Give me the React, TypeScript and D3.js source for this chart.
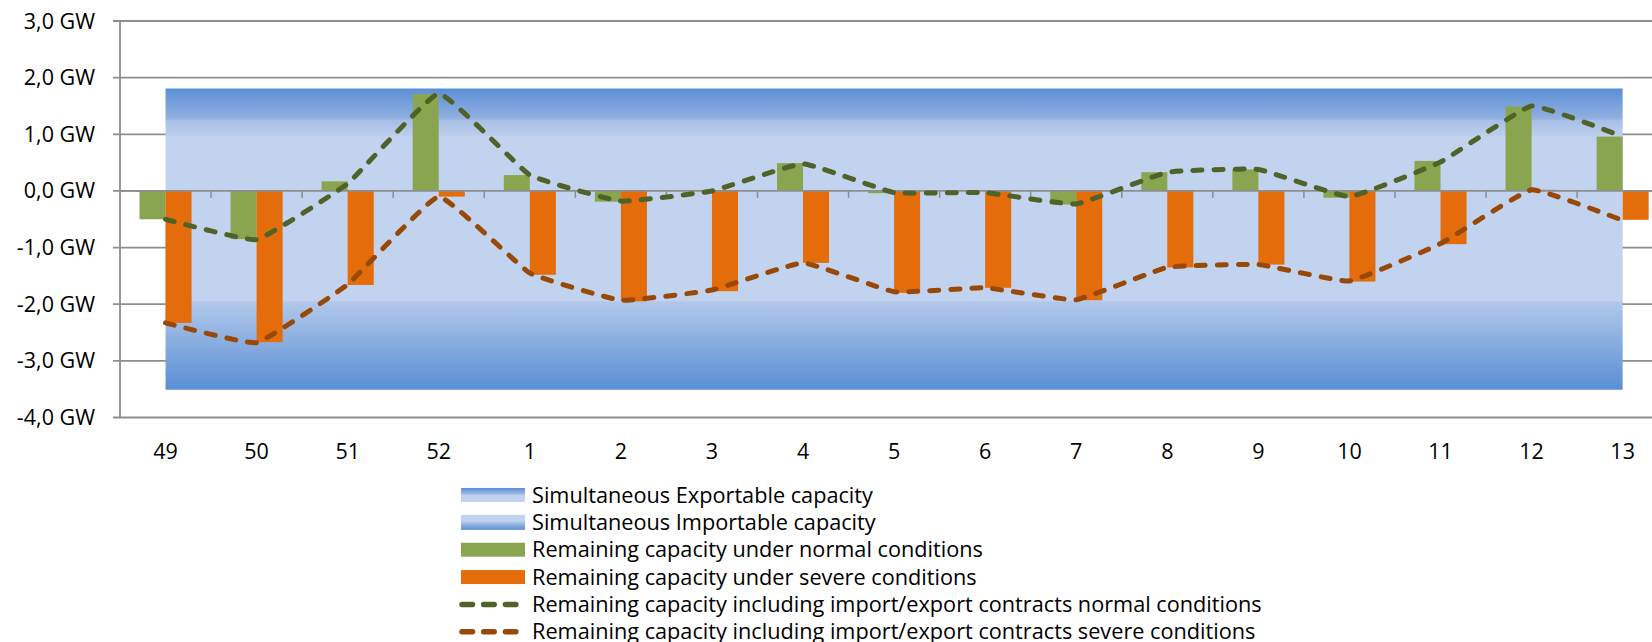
import React from "react";
import * as d3 from "d3";

// weeks on the category axis
const categories = ["49", "50", "51", "52", "1", "2", "3", "4", "5", "6", "7", "8", "9", "10", "11", "12", "13"];

// GW values
const exportCapacity = [1.81, 1.81, 1.81, 1.81, 1.81, 1.81, 1.81, 1.81, 1.81, 1.81, 1.81, 1.81, 1.81, 1.81, 1.81, 1.81, 1.81];
const importCapacity = [-3.51, -3.51, -3.51, -3.51, -3.51, -3.51, -3.51, -3.51, -3.51, -3.51, -3.51, -3.51, -3.51, -3.51, -3.51, -3.51, -3.51];
const normalBars = [-0.5, -0.85, 0.17, 1.71, 0.28, -0.19, 0, 0.49, -0.04, 0, -0.24, 0.33, 0.38, -0.12, 0.53, 1.49, 0.96];
const severeBars = [-2.33, -2.67, -1.66, -0.1, -1.48, -1.95, -1.77, -1.27, -1.8, -1.71, -1.93, -1.35, -1.3, -1.6, -0.94, 0.02, -0.51];
const normalLine = [-0.5, -0.86, 0.13, 1.72, 0.28, -0.18, 0, 0.48, -0.03, -0.03, -0.23, 0.33, 0.38, -0.1, 0.51, 1.5, 0.96];
const severeLine = [-2.33, -2.68, -1.65, -0.1, -1.45, -1.93, -1.75, -1.27, -1.78, -1.71, -1.92, -1.35, -1.3, -1.59, -0.93, 0.02, -0.52];

const yTicks = [3, 2, 1, 0, -1, -2, -3, -4];

const legendLabels = [
  "Simultaneous Exportable capacity",
  "Simultaneous Importable capacity",
  "Remaining capacity under normal conditions",
  "Remaining capacity under severe conditions",
  "Remaining capacity including import/export contracts normal conditions",
  "Remaining capacity including import/export contracts severe conditions",
];

const W = 1652;
const H = 642;
const FONT = "'Open Sans', 'Noto Sans', sans-serif";

const GREEN = "#8aa54f";
const ORANGE = "#e46c0a";
const GREEN_LINE = "#4f6228";
const BROWN_LINE = "#984807";
const GRID = "#8e8e8e";
const LIGHT = "#c1d3ee";
const DARK = "#5a8fd5";

const App: React.FC = () => {
  const left = 120;
  const step = 91.07;

  const x = d3
    .scaleBand<string>()
    .domain(categories)
    .range([left, left + step * categories.length])
    .paddingInner(0)
    .paddingOuter(0);

  // two bars side by side, centred in each category
  const sub = d3
    .scaleBand<string>()
    .domain(["normal", "severe"])
    .range([0, x.bandwidth()])
    .paddingInner(0)
    .paddingOuter(0.75);

  const y = d3.scaleLinear().domain([-4, 3]).range([417.5, 21]);

  const cx = (i: number) => (x(categories[i]) as number) + x.bandwidth() / 2;

  const capArea = d3
    .area<number>()
    .x((_d, i) => cx(i))
    .y0(y(0))
    .y1((d) => y(d));

  const line = d3
    .line<number>()
    .x((_d, i) => cx(i))
    .y((d) => y(d))
    .curve(d3.curveCardinal.tension(0.7));

  const fmt = (v: number) => d3.format(".1f")(v).replace(".", ",").replace("−", "-") + " GW";

  const bar = (vals: number[], key: string, color: string) =>
    vals.map((v, i) => {
      const y0 = y(0);
      const y1 = y(v);
      return (
        <rect
          key={key + i}
          x={(x(categories[i]) as number) + (sub(key) as number)}
          y={Math.min(y0, y1)}
          width={sub.bandwidth()}
          height={Math.abs(y1 - y0)}
          fill={color}
        />
      );
    });

  const legendX = 461;
  const legendY0 = 495;
  const legendStep = 27.35;

  return (
    <div style={{ position: "absolute", left: 0, top: 0, width: W, height: H, overflow: "hidden", background: "#fff" }}>
      <svg width={W} height={H} style={{ display: "block" }} fontFamily={FONT}>
        <defs>
          <linearGradient id="exp-grad" x1="0" y1="0" x2="0" y2="1">
            <stop offset="0" stopColor={DARK} />
            <stop offset="0.3" stopColor="#94b1e1" />
            <stop offset="0.31" stopColor="#a7bfe6" />
            <stop offset="0.46" stopColor="#bccfec" />
            <stop offset="0.47" stopColor={LIGHT} />
            <stop offset="1" stopColor={LIGHT} />
          </linearGradient>
          <linearGradient id="imp-grad" x1="0" y1="0" x2="0" y2="1">
            <stop offset="0" stopColor={LIGHT} />
            <stop offset="0.55" stopColor={LIGHT} />
            <stop offset="0.56" stopColor="#b1c7ea" />
            <stop offset="1" stopColor={DARK} />
          </linearGradient>
          <linearGradient id="leg-exp" x1="0" y1="0" x2="0" y2="1">
            <stop offset="0" stopColor={DARK} />
            <stop offset="0.4" stopColor="#9ab6e3" />
            <stop offset="0.55" stopColor={LIGHT} />
            <stop offset="1" stopColor={LIGHT} />
          </linearGradient>
          <linearGradient id="leg-imp" x1="0" y1="0" x2="0" y2="1">
            <stop offset="0" stopColor={LIGHT} />
            <stop offset="0.4" stopColor={LIGHT} />
            <stop offset="0.6" stopColor="#9ab6e3" />
            <stop offset="1" stopColor={DARK} />
          </linearGradient>
        </defs>

        {/* gridlines + y labels */}
        {yTicks.map((t) => (
          <g key={"g" + t}>
            <line x1={113} x2={W} y1={y(t)} y2={y(t)} stroke={GRID} strokeWidth={1.8} />
            <text x={95} y={y(t) + 7.5} textAnchor="end" fontSize={21.5} fill="#000">
              {fmt(t)}
            </text>
          </g>
        ))}

        {/* capacity areas */}
        <path d={capArea(exportCapacity) || ""} fill="url(#exp-grad)" />
        <path d={capArea(importCapacity) || ""} fill="url(#imp-grad)" />

        {/* y axis */}
        <line x1={left} x2={left} y1={y(3)} y2={y(-4)} stroke={GRID} strokeWidth={1.8} />

        {/* bars */}
        {bar(normalBars, "normal", GREEN)}
        {bar(severeBars, "severe", ORANGE)}

        {/* category axis at zero */}
        <line x1={left} x2={W} y1={y(0)} y2={y(0)} stroke={GRID} strokeWidth={1.8} />
        {categories.map((c) => (
          <line
            key={"t" + c}
            x1={(x(c) as number) + x.bandwidth()}
            x2={(x(c) as number) + x.bandwidth()}
            y1={y(0)}
            y2={y(0) + 7}
            stroke={GRID}
            strokeWidth={1.5}
          />
        ))}

        {/* lines */}
        <path
          d={line(normalLine) || ""}
          fill="none"
          stroke={GREEN_LINE}
          strokeWidth={5}
          strokeDasharray="9,12"
          strokeLinecap="round"
        />
        <path
          d={line(severeLine) || ""}
          fill="none"
          stroke={BROWN_LINE}
          strokeWidth={5}
          strokeDasharray="9,12"
          strokeLinecap="round"
        />

        {/* category labels */}
        {categories.map((c, i) => (
          <text key={"l" + c} x={cx(i)} y={458.5} textAnchor="middle" fontSize={21.5} fill="#000">
            {c}
          </text>
        ))}

        {/* legend */}
        {legendLabels.map((label, i) => {
          const ly = legendY0 + i * legendStep;
          let swatch: React.ReactNode;
          if (i === 0) swatch = <rect x={legendX} y={ly - 7} width={64} height={14} fill="url(#leg-exp)" />;
          else if (i === 1) swatch = <rect x={legendX} y={ly - 7.5} width={64} height={15} fill="url(#leg-imp)" />;
          else if (i === 2) swatch = <rect x={legendX} y={ly - 7} width={64} height={14} fill={GREEN} />;
          else if (i === 3) swatch = <rect x={legendX} y={ly - 7} width={64} height={14} fill={ORANGE} />;
          else
            swatch = (
              <line
                x1={legendX + 1}
                x2={legendX + 57}
                y1={ly}
                y2={ly}
                stroke={i === 4 ? GREEN_LINE : BROWN_LINE}
                strokeWidth={5.5}
                strokeDasharray="10.5,11.2"
                strokeLinecap="round"
              />
            );
          return (
            <g key={"leg" + i}>
              {swatch}
              <text x={532} y={ly + 7.5} fontSize={21.7} fill="#000">
                {label}
              </text>
            </g>
          );
        })}
      </svg>
    </div>
  );
};

export default App;
